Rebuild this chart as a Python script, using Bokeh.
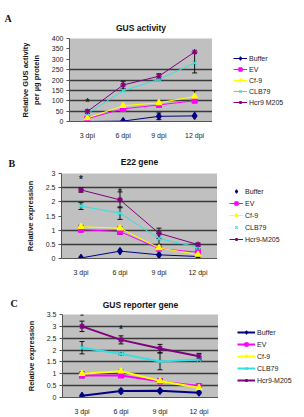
from bokeh.plotting import figure
from bokeh.models import (ColumnDataSource, Whisker, TeeHead, Legend, LegendItem,
                          Label, FixedTicker, FactorRange, Range1d)
from bokeh.layouts import column, row
from bokeh.embed import file_html
from bokeh.resources import INLINE

days = ["3 dpi", "6 dpi", "9 dpi", "12 dpi"]
series_names = ["Buffer", "EV", "Cf-9", "CLB79", "Hcr9-M205"]
series_colors = ["#000080", "#FF00FF", "#FFFF00", "#33E0E0", "#800080"]
series_markers = ["diamond", "square", "triangle", "x", "asterisk"]
series_sizes = [7, 5, 6, 6, 6]

# A: GUS activity (relative GUS activity per ug protein)
gus_buffer = [0, 2, 25, 27]
gus_ev = [14, 61, 80, 100]
gus_cf9 = [17, 76, 90, 121]
gus_clb79 = [38, 148, 203, 282]
gus_hcr9 = [48, 176, 218, 335]
gus_err_buffer = [0, 0, 16, 0]
gus_err_ev = [0, 0, 0, 0]
gus_err_cf9 = [0, 0, 0, 28]
gus_err_clb79 = [0, 0, 0, 48]
gus_err_hcr9 = [8, 18, 12, 0]
gus_star_day = ["3 dpi"]
gus_star_y = [92]

# B: E22 gene relative expression
e22_buffer = [0.02, 0.26, 0.13, 0.07]
e22_ev = [1.02, 0.95, 0.35, 0.22]
e22_cf9 = [1.12, 1.07, 0.37, 0.14]
e22_clb79 = [1.85, 1.6, 0.7, 0.4]
e22_hcr9 = [2.42, 2.07, 0.89, 0.49]
e22_err_buffer = [0, 0, 0, 0]
e22_err_ev = [0.08, 0.1, 0.05, 0.04]
e22_err_cf9 = [0.05, 0.05, 0.05, 0.04]
e22_err_clb79 = [0.12, 0.22, 0.2, 0.05]
e22_err_hcr9 = [0.08, 0.28, 0.18, 0.05]
e22_star_day = ["3 dpi", "6 dpi"]
e22_star_y = [2.78, 2.33]

# C: GUS reporter gene relative expression
rep_buffer = [0.07, 0.27, 0.28, 0.2]
rep_ev = [0.93, 0.93, 0.68, 0.48]
rep_cf9 = [1.0, 1.11, 0.7, 0.41]
rep_clb79 = [2.1, 1.84, 1.52, 1.6]
rep_hcr9 = [3.0, 2.43, 2.07, 1.74]
rep_err_buffer = [0, 0.08, 0.05, 0.04]
rep_err_ev = [0.1, 0.06, 0.06, 0.06]
rep_err_cf9 = [0.08, 0.05, 0.1, 0.07]
rep_err_clb79 = [0.26, 0.05, 0.35, 0.05]
rep_err_hcr9 = [0.22, 0.17, 0.17, 0.12]
rep_star_day = ["3 dpi", "6 dpi"]
rep_star_y = [3.43, 2.88]

FONT = "Liberation Sans"
LETTER_W = 18


def unaligned(f):
    # every canvas keeps its own frame; no frame alignment across the layout
    if "frame_align" in f.properties():
        f.frame_align = False
    return f


def side_figure(width, height, x_range, y_range):
    f = figure(width=width, height=height, x_range=x_range, y_range=y_range,
               min_border=0, x_axis_location=None, y_axis_location=None,
               output_backend="svg", toolbar_location=None)
    f.grid.visible = False
    f.outline_line_color = None
    f.background_fill_color = "white"
    f.border_fill_color = "white"
    return unaligned(f)


def add_series(p, i, xs, ys, line_w):
    src = ColumnDataSource(dict(x=xs, y=ys))
    ln = p.line("x", "y", source=src, color=series_colors[i], line_width=line_w)
    sc = p.scatter("x", "y", source=src, marker=series_markers[i], size=series_sizes[i],
                   fill_color=series_colors[i], line_color=series_colors[i], line_width=1.2)
    return ln, sc


def panel(letter, letter_xy, title, values, errors, star_day, star_y, y_max, y_ticks,
          grid_ticks, y_label, legend_labels, legend_line, line_w,
          box, legend_box, legend_step, glyph_w, title_standoff, label_standoff):
    left, top, height, bottom, legend_w = box
    main_w = 304 - LETTER_W - legend_w

    # panel letter column
    lf = side_figure(LETTER_W, height, Range1d(0, 1), Range1d(0, 1))
    lf.add_layout(Label(x=letter_xy[0], y=letter_xy[1], x_units="screen", y_units="screen",
                        text=letter, text_align="left", text_baseline="middle",
                        text_font="Liberation Serif", text_font_size="10px",
                        text_font_style="bold", text_color="#111111"))

    # chart
    p = figure(x_range=FactorRange(*days), y_range=Range1d(0, y_max),
               width=main_w, height=height,
               min_border_left=left - LETTER_W, min_border_right=0,
               min_border_top=top, min_border_bottom=bottom,
               output_backend="svg", toolbar_location=None)
    unaligned(p)
    p.background_fill_color = "#C0C0C0"
    p.border_fill_color = "white"
    p.outline_line_color = None
    p.xgrid.grid_line_color = None
    p.ygrid.ticker = FixedTicker(ticks=grid_ticks)
    p.ygrid.grid_line_color = "#3a3a3a"
    p.ygrid.grid_line_width = 1.4

    p.title.text = title
    p.title.align = "center"
    p.title.text_font = FONT
    p.title.text_font_size = "8.5px"
    p.title.text_font_style = "bold"
    p.title.text_color = "#111111"
    p.title.standoff = title_standoff

    p.yaxis.ticker = FixedTicker(ticks=y_ticks)
    p.yaxis.axis_label = y_label
    p.yaxis.axis_label_text_font = FONT
    p.yaxis.axis_label_text_font_size = "7.5px"
    p.yaxis.axis_label_text_font_style = "bold"
    p.yaxis.axis_label_text_color = "#111111"
    p.yaxis.axis_label_standoff = label_standoff
    for ax in (p.xaxis, p.yaxis):
        ax.major_label_text_font = FONT
        ax.major_label_text_font_size = "7px"
        ax.major_label_text_color = "#222222"
        ax.axis_line_color = "#555555"
        ax.minor_tick_line_color = None
    p.yaxis.major_tick_out = 3
    p.yaxis.major_tick_in = 0
    p.yaxis.major_tick_line_color = "#555555"
    p.yaxis.major_label_standoff = 3
    p.xaxis.major_tick_line_color = None
    p.xaxis.major_label_standoff = 4

    for i in range(len(series_names)):
        add_series(p, i, days, values[i], line_w)
        bx, up, lo = [], [], []
        for d, v, e in zip(days, values[i], errors[i]):
            if e > 0:
                bx.append(d)
                up.append(v + e)
                lo.append(v - e)
        if bx:
            wsrc = ColumnDataSource(dict(base=bx, upper=up, lower=lo))
            p.add_layout(Whisker(source=wsrc, base="base", upper="upper", lower="lower",
                                 line_color="#111111", line_width=1,
                                 upper_head=TeeHead(size=5, line_color="#111111", line_width=1),
                                 lower_head=TeeHead(size=5, line_color="#111111", line_width=1)))

    ssrc = ColumnDataSource(dict(x=star_day, y=star_y, t=["*"] * len(star_day)))
    p.text("x", "y", text="t", source=ssrc, text_align="center", text_baseline="middle",
           text_font_size="10px", text_font_style="bold", text_color="#222222")

    # legend column: the same series on a canvas whose y window lies below zero,
    # so only the legend keys are visible
    gf = side_figure(legend_w, height, FactorRange(*days), Range1d(-2 * y_max, -y_max))
    items = []
    for i in range(len(series_names)):
        ln, sc = add_series(gf, i, days, values[i], line_w)
        rends = [ln, sc] if legend_line[i] else [sc]
        items.append(LegendItem(label=legend_labels[i], renderers=rends))
    gf.add_layout(Legend(items=items, location=legend_box, border_line_color=None,
                         background_fill_alpha=0, padding=0, margin=0,
                         spacing=legend_step - 8, glyph_width=glyph_w, glyph_height=8,
                         label_height=8, label_standoff=2,
                         label_text_font=FONT, label_text_font_size="7px",
                         label_text_color="#222222"))
    return row(lf, p, gf, spacing=0)


pa = panel("A", (4, 123), "GUS activity",
           [gus_buffer, gus_ev, gus_cf9, gus_clb79, gus_hcr9],
           [gus_err_buffer, gus_err_ev, gus_err_cf9, gus_err_clb79, gus_err_hcr9],
           gus_star_day, gus_star_y, 400, list(range(0, 401, 50)), [50, 100, 150, 200, 250],
           "Relative GUS activity\nper \u00b5g protein",
           ["Buffer", "EV", "Cf-9", "CLB79", "Hcr9 M205"], [True] * 5, 1,
           (63, 38, 141, 17, 92), (21, 35), 11, 14, 12, 8)

pb = panel("B", (8, 116), "E22 gene",
           [e22_buffer, e22_ev, e22_cf9, e22_clb79, e22_hcr9],
           [e22_err_buffer, e22_err_ev, e22_err_cf9, e22_err_clb79, e22_err_hcr9],
           e22_star_day, e22_star_y, 3, [0, 0.5, 1, 1.5, 2, 2.5, 3], [0.5, 1, 2, 2.5],
           "Relative expression",
           ["Buffer", "EV", "Cf-9", "CLB79", "Hcr9-M205"], [False, True, True, False, True], 1,
           (61, 32, 138, 21, 87), (12, 36), 12, 14, 13, 8)

pc = panel("C", (10, 114), "GUS reporter gene",
           [rep_buffer, rep_ev, rep_cf9, rep_clb79, rep_hcr9],
           [rep_err_buffer, rep_err_ev, rep_err_cf9, rep_err_clb79, rep_err_hcr9],
           rep_star_day, rep_star_y, 3.5, [0, 0.5, 1, 1.5, 2, 2.5, 3, 3.5],
           [0.5, 1, 1.5, 2, 2.5, 3],
           "Relative expression",
           ["Buffer", "EV", "Cf-9", "CLB79", "Hcr9-M205"], [True] * 5, 2,
           (62, 35, 138, 20, 86), (19, 33), 12, 18, 10, 8)

layout = column(pa, pb, pc, spacing=0)
open("out.html", "w").write(file_html(layout, INLINE))
